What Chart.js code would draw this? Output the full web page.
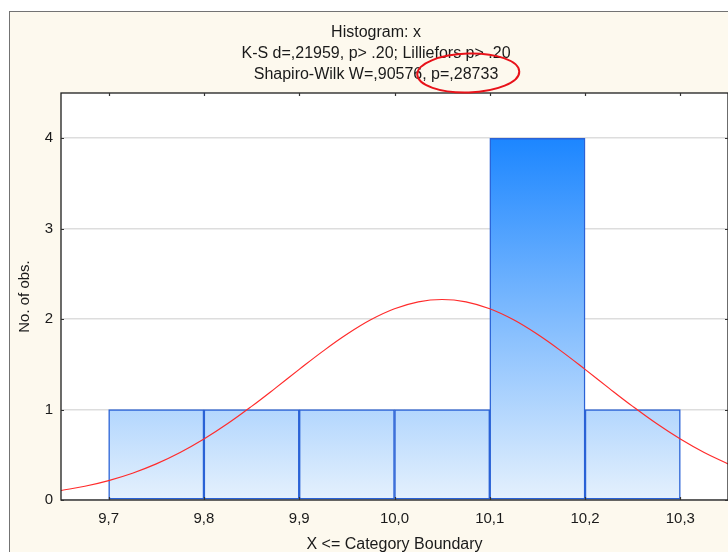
<!DOCTYPE html>
<html>
<head>
<meta charset="utf-8">
<script src="https://cdn.jsdelivr.net/npm/chart.js@4.4.0/dist/chart.umd.min.js"></script>
<style>
html,body{margin:0;padding:0;background:#ffffff;overflow:hidden;width:728px;height:552px;}
#frame{position:absolute;left:9px;top:11px;width:760px;height:560px;border:1px solid #737373;background:#fdf9ee;}
#wrap{position:absolute;left:0;top:0;width:752px;height:552px;}
canvas{display:block;}
</style>
</head>
<body>
<div id="frame"></div>
<div id="wrap"><canvas id="c" width="752" height="552" style="width:752px;height:552px"></canvas></div>
<script>
// ---- data ----
const titleLines = ["Histogram: x", "K-S d=,21959, p> .20; Lilliefors p> .20", "Shapiro-Wilk W=,90576, p=,28733"];
const highlightText = ", p=,28733";
const xAxisTitle = "X <= Category Boundary";
const yAxisTitle = "No. of obs.";
const binLower = [9.7, 9.8, 9.9, 10.0, 10.1, 10.2];
const binWidth = 0.1;
const counts = [1, 1, 1, 1, 4, 1];
const xTicks = [9.7, 9.8, 9.9, 10.0, 10.1, 10.2, 10.3];
const xTickLabels = ["9,7", "9,8", "9,9", "10,0", "10,1", "10,2", "10,3"];
const yTicks = [0, 1, 2, 3, 4];
const xMin = 9.65, xMax = 10.35, yMin = 0, yMax = 4.5;
const curveX = [9.650, 9.675, 9.700, 9.725, 9.750, 9.775, 9.800, 9.825, 9.850, 9.875, 9.900, 9.925, 9.950, 9.975, 10.000,
                10.025, 10.050, 10.075, 10.100, 10.125, 10.150, 10.175, 10.200, 10.225, 10.250, 10.275, 10.300, 10.325, 10.350];
const curveY = [0.105, 0.152, 0.215, 0.296, 0.399, 0.525, 0.674, 0.845, 1.035, 1.237, 1.444, 1.646, 1.832, 1.992, 2.114,
                2.191, 2.217, 2.191, 2.114, 1.992, 1.832, 1.646, 1.444, 1.237, 1.035, 0.845, 0.674, 0.525, 0.399];

const FONT = "'Liberation Sans', Arial, sans-serif";
const TITLE_SIZE = 16, TITLE_LH = 21, TITLE_PAD_TOP = 22, TITLE_PAD_BOTTOM = 8;
const TITLE_SHIFT_LEFT = 24;

const plotFrame = {
  id: 'plotFrame',
  afterLayout(chart) {
    if (chart.titleBlock) chart.titleBlock.left = chart.titleBlock.left + TITLE_SHIFT_LEFT;
  },
  beforeDraw(chart) {
    const {ctx, chartArea: a} = chart;
    ctx.save();
    ctx.fillStyle = '#ffffff';
    ctx.fillRect(a.left, a.top, a.right - a.left, a.bottom - a.top);
    ctx.restore();
  },
  afterDatasetsDraw(chart) {
    const {ctx, chartArea: a, scales} = chart;
    ctx.save();
    ctx.strokeStyle = '#1e1e1e';
    ctx.lineWidth = 1.3;
    ctx.strokeRect(a.left, a.top, a.right - a.left, a.bottom - a.top);
    ctx.lineWidth = 1.2;
    ctx.strokeStyle = '#333333';
    ctx.beginPath();
    xTicks.forEach(v => {
      const px = Math.round(scales.x.getPixelForValue(v)) + 0.5;
      ctx.moveTo(px, a.top); ctx.lineTo(px, a.top + 3);
      ctx.moveTo(px, a.bottom); ctx.lineTo(px, a.bottom - 3);
    });
    yTicks.forEach(v => {
      const py = Math.round(scales.y.getPixelForValue(v)) + 0.5;
      ctx.moveTo(a.left, py); ctx.lineTo(a.left + 3, py);
      ctx.moveTo(a.right, py); ctx.lineTo(a.right - 3, py);
    });
    ctx.stroke();
    ctx.restore();
  },
  afterDraw(chart) {
    const {ctx} = chart;
    const tb = chart.titleBlock;
    if (!tb) return;
    ctx.save();
    ctx.font = TITLE_SIZE + "px " + FONT;
    const line = titleLines[2];
    const cx = (tb.left + tb.right) / 2;
    const lineY = tb.top + TITLE_PAD_TOP + TITLE_LH * 2 + TITLE_LH / 2;
    const full = ctx.measureText(line).width;
    const start = cx - full / 2;
    const idx = line.indexOf(highlightText);
    const pre = ctx.measureText(line.slice(0, idx)).width;
    const subW = ctx.measureText(highlightText).width;
    const subCenter = start + pre + subW / 2;
    ctx.strokeStyle = '#e8121a';
    ctx.lineWidth = 2;
    ctx.beginPath();
    ctx.ellipse(subCenter + 8, lineY - 1.5, subW / 2 + 13, 19.5, -0.03, 0, Math.PI * 2);
    ctx.stroke();
    ctx.restore();
  }
};

const ctx = document.getElementById('c').getContext('2d');
new Chart(ctx, {
  data: {
    datasets: [
      {
        type: 'line',
        order: 0,
        data: curveX.map((x, i) => ({x: x, y: curveY[i]})),
        borderColor: '#ff2b2b',
        borderWidth: 1.2,
        pointRadius: 0,
        tension: 0.4,
        fill: false
      },
      {
        type: 'bar',
        order: 1,
        data: binLower.map((b, i) => ({x: b + binWidth / 2, y: counts[i]})),
        barPercentage: 1,
        categoryPercentage: 1,
        borderColor: '#2a62d6',
        borderWidth: 1.5,
        borderSkipped: false,
        backgroundColor: (c) => {
          const chart = c.chart;
          const {chartArea, scales} = chart;
          if (!chartArea || !scales.y) return '#b3d7fb';
          const top = scales.y.getPixelForValue(Math.max(...counts));
          const bottom = scales.y.getPixelForValue(0);
          const g = chart.ctx.createLinearGradient(0, top, 0, bottom);
          g.addColorStop(0, '#1c86ff');
          g.addColorStop(1, '#e5f1fd');
          return g;
        }
      }
    ]
  },
  options: {
    responsive: false,
    animation: false,
    layout: {padding: {left: 0, right: 24, top: 0, bottom: 0}},
    plugins: {
      legend: {display: false},
      tooltip: {enabled: false},
      title: {
        display: true,
        text: titleLines,
        color: '#1a1a1a',
        font: {family: FONT, size: TITLE_SIZE, weight: 'normal', lineHeight: TITLE_LH / TITLE_SIZE},
        padding: {top: TITLE_PAD_TOP, bottom: TITLE_PAD_BOTTOM}
      }
    },
    scales: {
      x: {
        type: 'linear',
        min: xMin,
        max: xMax,
        offset: false,
        afterBuildTicks: (s) => { s.ticks = xTicks.map(v => ({value: v})); },
        afterFit: (s) => { s.height = 52; },
        grid: {display: false, drawTicks: false},
        border: {display: false},
        ticks: {
          color: '#1a1a1a',
          font: {family: FONT, size: 15},
          padding: 10,
          maxRotation: 0,
          autoSkip: false,
          callback: (v, i) => xTickLabels[i]
        },
        title: {
          display: true,
          text: xAxisTitle,
          color: '#1a1a1a',
          font: {family: FONT, size: 16},
          padding: {top: 0, bottom: -2}
        }
      },
      y: {
        type: 'linear',
        min: yMin,
        max: yMax,
        afterBuildTicks: (s) => { s.ticks = yTicks.map(v => ({value: v})); },
        afterFit: (s) => { s.width = 61; },
        grid: {color: '#dddddd', lineWidth: 1.5, drawTicks: false},
        border: {display: false},
        ticks: {
          color: '#1a1a1a',
          font: {family: FONT, size: 15},
          padding: 8,
          callback: (v) => String(v)
        },
        title: {
          display: true,
          text: yAxisTitle,
          color: '#1a1a1a',
          font: {family: FONT, size: 15},
          padding: {top: 16, bottom: 0}
        }
      }
    }
  },
  plugins: [plotFrame]
});
</script>
</body>
</html>
